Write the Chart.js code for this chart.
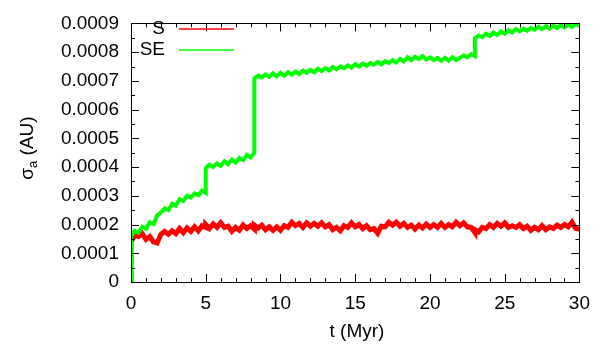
<!DOCTYPE html>
<html>
<head>
<meta charset="utf-8">
<script src="https://cdn.jsdelivr.net/npm/chart.js@4/dist/chart.umd.min.js"></script>
<style>
  html, body { margin: 0; padding: 0; background: #fff; }
  canvas { display: block; }
</style>
</head>
<body>
<canvas id="sigmaChart" width="600" height="345"></canvas>
<script>
// time in Myr (repeated entries mark the sudden jumps)
const times = [
  0, 0, 0.25, 0.5, 0.75, 1, 1.25, 1.5, 1.75, 2, 2.25, 2.5, 2.75, 3, 3.25, 3.5, 3.75, 4, 4.25, 4.5, 4.75, 5, 5,
  5.25, 5.5, 5.75, 6, 6.25, 6.5, 6.75, 7, 7.25, 7.5, 7.75, 8, 8.25, 8.25,
  8.5, 8.75, 9, 9.25, 9.5, 9.75, 10, 10.25, 10.5, 10.75, 11, 11.25, 11.5, 11.75, 12, 12.25, 12.5, 12.75,
  13, 13.25, 13.5, 13.75, 14, 14.25, 14.5, 14.75, 15, 15.25, 15.5, 15.75, 16, 16.25, 16.5, 16.75,
  17, 17.25, 17.5, 17.75, 18, 18.25, 18.5, 18.75, 19, 19.25, 19.5, 19.75, 20, 20.25, 20.5, 20.75,
  21, 21.25, 21.5, 21.75, 22, 22.25, 22.5, 22.75, 23, 23,
  23.25, 23.5, 23.75, 24, 24.25, 24.5, 24.75, 25, 25.25, 25.5, 25.75, 26, 26.25, 26.5, 26.75,
  27, 27.25, 27.5, 27.75, 28, 28.25, 28.5, 28.75, 29, 29.25, 29.5, 29.75, 30
];

// sigma_a (AU), run S
const sValues = [
  0, 0.000140, 0.000162, 0.000158, 0.000168, 0.000148, 0.000158, 0.000140, 0.000136, 0.000166, 0.000176, 0.000166, 0.000178,
  0.000168, 0.000186, 0.000172, 0.000188, 0.000176, 0.000192, 0.000178, 0.000196, 0.000190, 0.000200,
  0.000186, 0.000202, 0.000190, 0.000206, 0.000190, 0.000194, 0.000176, 0.000190, 0.000180, 0.000198, 0.000186, 0.000196, 0.000184, 0.000198,
  0.000188, 0.000198, 0.000182, 0.000192, 0.000180, 0.000192, 0.000180, 0.000196, 0.000190, 0.000208, 0.000196, 0.000204, 0.000190, 0.000206,
  0.000194, 0.000204, 0.000194, 0.000206, 0.000192, 0.000200, 0.000182, 0.000190, 0.000178, 0.000196, 0.000190, 0.000206,
  0.000192, 0.000200, 0.000186, 0.000196, 0.000182, 0.000186, 0.000170, 0.000194, 0.000192, 0.000208, 0.000198, 0.000208,
  0.000194, 0.000204, 0.000190, 0.000198, 0.000184, 0.000198, 0.000188, 0.000202, 0.000190, 0.000200, 0.000190, 0.000204,
  0.000190, 0.000200, 0.000192, 0.000208, 0.000196, 0.000206, 0.000192, 0.000190, 0.000172, 0.000182,
  0.000174, 0.000190, 0.000186, 0.000200, 0.000190, 0.000204, 0.000194, 0.000206, 0.000190, 0.000196, 0.000190, 0.000200,
  0.000186, 0.000194, 0.000180, 0.000190, 0.000182, 0.000196, 0.000182, 0.000192, 0.000186, 0.000198, 0.000190, 0.000200,
  0.000192, 0.000208, 0.000186, 0.000184
];

// sigma_a (AU), run SE
const seValues = [
  0, 0.000160, 0.000178, 0.000172, 0.000192, 0.000186, 0.000208, 0.000202, 0.000232, 0.000242, 0.000256, 0.000250, 0.000272,
  0.000266, 0.000288, 0.000282, 0.000300, 0.000294, 0.000308, 0.000302, 0.000318, 0.000310, 0.000396,
  0.000408, 0.000400, 0.000412, 0.000404, 0.000420, 0.000410, 0.000426, 0.000416, 0.000432, 0.000424, 0.000442, 0.000434, 0.000450, 0.000708,
  0.000718, 0.000712, 0.000722, 0.000714, 0.000726, 0.000716, 0.000728, 0.000718, 0.000730, 0.000722, 0.000732, 0.000724, 0.000736, 0.000728,
  0.000738, 0.000730, 0.000742, 0.000734, 0.000744, 0.000736, 0.000748, 0.000740, 0.000750, 0.000744, 0.000754, 0.000746,
  0.000758, 0.000750, 0.000760, 0.000752, 0.000762, 0.000756, 0.000766, 0.000758, 0.000768, 0.000762, 0.000772, 0.000764,
  0.000776, 0.000768, 0.000782, 0.000772, 0.000784, 0.000776, 0.000786, 0.000774, 0.000782, 0.000772, 0.000780, 0.000770,
  0.000780, 0.000770, 0.000782, 0.000772, 0.000780, 0.000788, 0.000782, 0.000792, 0.000786, 0.000848,
  0.000858, 0.000852, 0.000864, 0.000856, 0.000868, 0.000860, 0.000872, 0.000864, 0.000876, 0.000868, 0.000880, 0.000872,
  0.000882, 0.000874, 0.000884, 0.000878, 0.000888, 0.000880, 0.000890, 0.000882, 0.000892, 0.000884, 0.000894, 0.000886,
  0.000896, 0.000888, 0.000898, 0.000892
];

const seriesNames = ['S', 'SE'];
const seriesColors = ['#ff0000', '#00ff00'];

const FONT = 'Liberation Sans, Arial, Helvetica, sans-serif';
const FS = 19;

function toPoints(vals) {
  return times.map((t, i) => ({ x: t, y: vals[i] }));
}

// inward ticks, frame, axis titles and legend drawn like gnuplot
const gnuplotFrame = {
  id: 'gnuplotFrame',
  afterDraw(chart) {
    const { ctx, chartArea: a, scales } = chart;
    const xs = scales.x, ys = scales.y;
    ctx.save();
    ctx.strokeStyle = '#000';
    ctx.lineWidth = 1;
    ctx.beginPath();
    // x ticks: major every 5, minor every 1
    for (let t = 0; t <= 30; t++) {
      const px = Math.round(xs.getPixelForValue(t)) + 0.5;
      const len = t % 5 === 0 ? 8 : 4;
      ctx.moveTo(px, a.bottom); ctx.lineTo(px, a.bottom - len);
      ctx.moveTo(px, a.top); ctx.lineTo(px, a.top + len);
    }
    // y ticks: major every 0.0001, minor every 0.00005
    for (let k = 0; k <= 18; k++) {
      const py = Math.round(ys.getPixelForValue(k * 0.00005)) + 0.5;
      const len = k % 2 === 0 ? 8 : 4;
      ctx.moveTo(a.left, py); ctx.lineTo(a.left + len, py);
      ctx.moveTo(a.right, py); ctx.lineTo(a.right - len, py);
    }
    ctx.stroke();
    ctx.strokeRect(Math.round(a.left) + 0.5, Math.round(a.top) + 0.5,
      Math.round(a.right - a.left), Math.round(a.bottom - a.top));

    // x title
    ctx.fillStyle = '#000';
    ctx.font = FS + 'px ' + FONT;
    ctx.textAlign = 'center';
    ctx.textBaseline = 'middle';
    ctx.fillText('t (Myr)', 357, 332);

    // y title with subscript
    const sub = Math.round(FS * 0.7) + 'px ' + FONT;
    ctx.font = FS + 'px ' + FONT;
    const w1 = ctx.measureText('σ').width;
    const w3 = ctx.measureText(' (AU)').width;
    ctx.font = sub;
    const w2 = ctx.measureText('a').width;
    const total = w1 + w2 + w3;
    ctx.translate(27, 148);
    ctx.rotate(-Math.PI / 2);
    ctx.textAlign = 'left';
    ctx.textBaseline = 'alphabetic';
    let x0 = -total / 2;
    ctx.font = FS + 'px ' + FONT;
    ctx.fillText('σ', x0, 6);
    ctx.font = sub;
    ctx.fillText('a', x0 + w1, 10);
    ctx.font = FS + 'px ' + FONT;
    ctx.fillText(' (AU)', x0 + w1 + w2, 6);
    ctx.setTransform(1, 0, 0, 1, 0, 0);

    // legend
    ctx.font = FS + 'px ' + FONT;
    ctx.textAlign = 'right';
    ctx.textBaseline = 'middle';
    seriesNames.forEach((name, i) => {
      const y = 29 + i * 21;
      ctx.fillStyle = '#000';
      ctx.fillText(name, 165, y);
      ctx.strokeStyle = seriesColors[i];
      ctx.lineWidth = 1.5;
      ctx.beginPath();
      ctx.moveTo(179, y); ctx.lineTo(234, y);
      ctx.stroke();
    });
    ctx.restore();
  }
};

const bgPlugin = {
  id: 'bg',
  beforeDraw(chart) {
    const ctx = chart.ctx;
    ctx.save();
    ctx.fillStyle = '#fff';
    ctx.fillRect(0, 0, chart.width, chart.height);
    ctx.restore();
  }
};

const ctx = document.getElementById('sigmaChart').getContext('2d');
new Chart(ctx, {
  type: 'line',
  data: {
    datasets: [
      {
        label: seriesNames[0],
        data: toPoints(sValues),
        borderColor: seriesColors[0],
        borderWidth: 5,
        borderJoinStyle: 'miter',
        pointRadius: 0,
        tension: 0,
        order: 2
      },
      {
        label: seriesNames[1],
        data: toPoints(seValues),
        borderColor: seriesColors[1],
        borderWidth: 4,
        borderJoinStyle: 'miter',
        pointRadius: 0,
        tension: 0,
        order: 1
      }
    ]
  },
  options: {
    responsive: false,
    animation: false,
    events: [],
    layout: { padding: { top: 11, right: 15, left: 0, bottom: 0 } },
    plugins: { legend: { display: false }, tooltip: { enabled: false } },
    scales: {
      x: {
        type: 'linear',
        min: 0,
        max: 30,
        grid: { display: false, drawTicks: false },
        border: { display: false },
        ticks: { stepSize: 5, padding: 10, color: '#000', font: { family: FONT, size: FS }, maxRotation: 0 },
        afterFit: s => { s.height = 63; }
      },
      y: {
        min: 0,
        max: 0.0009,
        grid: { display: false, drawTicks: false },
        border: { display: false },
        ticks: {
          stepSize: 0.0001,
          padding: 12,
          color: '#000',
          font: { family: FONT, size: FS },
          callback: v => (v === 0 ? '0' : v.toFixed(4))
        },
        afterFit: s => { s.width = 131; }
      }
    }
  },
  plugins: [bgPlugin, gnuplotFrame]
});
</script>
</body>
</html>
